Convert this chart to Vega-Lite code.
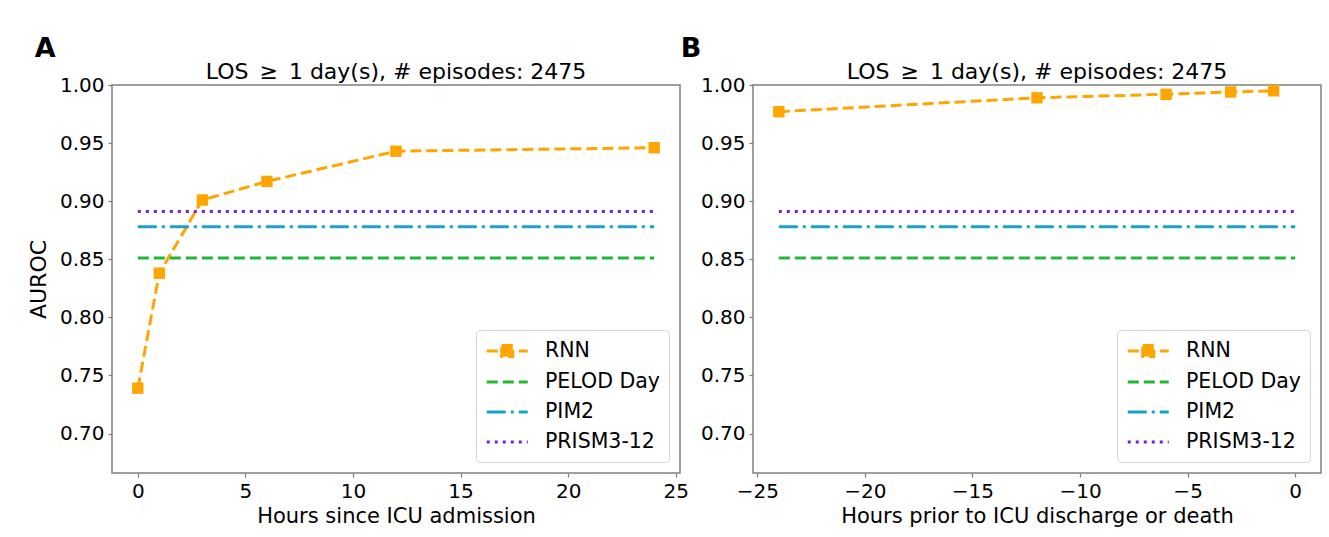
{
  "$schema": "https://vega.github.io/schema/vega-lite/v6.json",
  "padding": {"left": 26, "top": 35, "right": 5, "bottom": 5},
  "background": "white",
  "config": {
    "font": "DejaVu Sans",
    "view": {"stroke": "#808080", "strokeWidth": 1.5},
    "axis": {"grid": false, "domain": false, "tickColor": "#808080", "tickSize": 4, "tickWidth": 1.3, "labelFontSize": 20, "labelColor": "black", "labelFont": "DejaVu Sans", "titleFontSize": 21, "titleFontWeight": "normal", "titleColor": "black", "titleFont": "DejaVu Sans", "labelPadding": 4},
    "title": {"font": "DejaVu Sans", "color": "black"}
  },
  "datasets": {
    "A": [
      {"model": "RNN", "hours": 0, "auroc": 0.739},
      {"model": "RNN", "hours": 1, "auroc": 0.838},
      {"model": "RNN", "hours": 3, "auroc": 0.901},
      {"model": "RNN", "hours": 6, "auroc": 0.917},
      {"model": "RNN", "hours": 12, "auroc": 0.943},
      {"model": "RNN", "hours": 24, "auroc": 0.946},
      {"model": "PELOD Day", "hours": 0, "auroc": 0.851},
      {"model": "PELOD Day", "hours": 24, "auroc": 0.851},
      {"model": "PIM2", "hours": 0, "auroc": 0.878},
      {"model": "PIM2", "hours": 24, "auroc": 0.878},
      {"model": "PRISM3-12", "hours": 0, "auroc": 0.891},
      {"model": "PRISM3-12", "hours": 24, "auroc": 0.891}
    ],
    "B": [
      {"model": "RNN", "hours": -24, "auroc": 0.977},
      {"model": "RNN", "hours": -12, "auroc": 0.989},
      {"model": "RNN", "hours": -6, "auroc": 0.992},
      {"model": "RNN", "hours": -3, "auroc": 0.994},
      {"model": "RNN", "hours": -1, "auroc": 0.995},
      {"model": "PELOD Day", "hours": -24, "auroc": 0.851},
      {"model": "PELOD Day", "hours": 0, "auroc": 0.851},
      {"model": "PIM2", "hours": -24, "auroc": 0.878},
      {"model": "PIM2", "hours": 0, "auroc": 0.878},
      {"model": "PRISM3-12", "hours": -24, "auroc": 0.891},
      {"model": "PRISM3-12", "hours": 0, "auroc": 0.891}
    ]
  },
  "spacing": -10,
  "resolve": {"scale": {"color": "independent", "strokeDash": "independent"}, "legend": {"color": "independent", "strokeDash": "independent"}},
  "hconcat": [
    {
      "title": {"text": "A", "anchor": "start", "fontSize": 27, "fontWeight": "bold", "offset": -3, "dx": 8},
      "resolve": {"scale": {"color": "independent", "strokeDash": "independent"}, "legend": {"color": "independent", "strokeDash": "independent"}},
      "vconcat": [
        {
          "width": 568, "height": 388,
          "title": {"text": "LOS\u2002≥\u20021 day(s), # episodes: 2475", "fontSize": 22, "fontWeight": "normal", "anchor": "middle", "frame": "group", "offset": -9},
          "data": {"name": "A"},
          "layer": [
            {
              "mark": {"type": "line", "strokeWidth": 3, "clip": false},
              "encoding": {
                "x": {"field": "hours", "type": "quantitative", "scale": {"domain": [-1.2, 25.2], "nice": false, "zero": false}, "axis": {"values": [0, 5, 10, 15, 20, 25], "format": "d", "title": "Hours since ICU admission"}},
                "y": {"field": "auroc", "type": "quantitative", "scale": {"domain": [0.666, 1.0], "nice": false, "zero": false}, "axis": {"values": [0.7, 0.75, 0.8, 0.85, 0.9, 0.95, 1.0], "format": ".2f", "title": "AUROC", "titleFontSize": 22, "titlePadding": 9}},
                "color": {"field": "model", "type": "nominal", "scale": {"domain": ["RNN", "PELOD Day", "PIM2", "PRISM3-12"], "range": ["#ffa500", "#20b830", "#17a2c6", "#7b1be0"]},
                  "legend": {"title": null, "orient": "bottom-right", "offset": 11, "labelFontSize": 20.5, "labelFont": "DejaVu Sans", "labelColor": "black", "symbolType": "stroke", "symbolSize": 420, "symbolStrokeWidth": 3, "rowPadding": 7, "padding": 9, "fillColor": "rgba(255,255,255,0.85)", "strokeColor": "#d4d4d4", "cornerRadius": 4, "labelOffset": 36,
                    "encode": {"symbols": {"update": {"shape": {"signal": "datum.value === 'RNN' ? 'M-1,0H3M0.46,-0.54H1.54V0.54H0.46Z' : 'M-1,0H3'"}, "fill": {"signal": "datum.value === 'RNN' ? '#ffa500' : 'transparent'"}}}}}},
                "strokeDash": {"field": "model", "type": "nominal", "scale": {"domain": ["RNN", "PELOD Day", "PIM2", "PRISM3-12"], "range": [[11, 5], [11, 5], [19, 5, 3, 5], [3, 5]]},
                  "legend": {"title": null, "orient": "bottom-right", "offset": 11, "labelFontSize": 20.5, "labelFont": "DejaVu Sans", "labelColor": "black", "symbolType": "stroke", "symbolSize": 420, "symbolStrokeWidth": 3, "rowPadding": 7, "padding": 9, "fillColor": "rgba(255,255,255,0.85)", "strokeColor": "#d4d4d4", "cornerRadius": 4, "labelOffset": 36,
                    "encode": {"symbols": {"update": {"shape": {"signal": "datum.value === 'RNN' ? 'M-1,0H3M0.46,-0.54H1.54V0.54H0.46Z' : 'M-1,0H3'"}, "fill": {"signal": "datum.value === 'RNN' ? '#ffa500' : 'transparent'"}}}}}}
              }
            },
            {
              "transform": [{"filter": "datum.model === 'RNN'"}],
              "mark": {"type": "square", "size": 130, "color": "#ffa500", "opacity": 1, "clip": false},
              "encoding": {
                "x": {"field": "hours", "type": "quantitative"},
                "y": {"field": "auroc", "type": "quantitative"}
              }
            }
          ]
        }
      ]
    },
    {
      "title": {"text": "B", "anchor": "start", "fontSize": 27, "fontWeight": "bold", "offset": -3, "dx": -19},
      "resolve": {"scale": {"color": "independent", "strokeDash": "independent"}, "legend": {"color": "independent", "strokeDash": "independent"}},
      "vconcat": [
        {
          "width": 568, "height": 388,
          "title": {"text": "LOS\u2002≥\u20021 day(s), # episodes: 2475", "fontSize": 22, "fontWeight": "normal", "anchor": "middle", "frame": "group", "offset": -9},
          "data": {"name": "B"},
          "layer": [
            {
              "mark": {"type": "line", "strokeWidth": 3, "clip": false},
              "encoding": {
                "x": {"field": "hours", "type": "quantitative", "scale": {"domain": [-25.2, 1.2], "nice": false, "zero": false}, "axis": {"values": [-25, -20, -15, -10, -5, 0], "format": "d", "title": "Hours prior to ICU discharge or death"}},
                "y": {"field": "auroc", "type": "quantitative", "scale": {"domain": [0.666, 1.0], "nice": false, "zero": false}, "axis": {"values": [0.7, 0.75, 0.8, 0.85, 0.9, 0.95, 1.0], "format": ".2f", "title": null}},
                "color": {"field": "model", "type": "nominal", "scale": {"domain": ["RNN", "PELOD Day", "PIM2", "PRISM3-12"], "range": ["#ffa500", "#20b830", "#17a2c6", "#7b1be0"]},
                  "legend": {"title": null, "orient": "bottom-right", "offset": 11, "labelFontSize": 20.5, "labelFont": "DejaVu Sans", "labelColor": "black", "symbolType": "stroke", "symbolSize": 420, "symbolStrokeWidth": 3, "rowPadding": 7, "padding": 9, "fillColor": "rgba(255,255,255,0.85)", "strokeColor": "#d4d4d4", "cornerRadius": 4, "labelOffset": 36,
                    "encode": {"symbols": {"update": {"shape": {"signal": "datum.value === 'RNN' ? 'M-1,0H3M0.46,-0.54H1.54V0.54H0.46Z' : 'M-1,0H3'"}, "fill": {"signal": "datum.value === 'RNN' ? '#ffa500' : 'transparent'"}}}}}},
                "strokeDash": {"field": "model", "type": "nominal", "scale": {"domain": ["RNN", "PELOD Day", "PIM2", "PRISM3-12"], "range": [[11, 5], [11, 5], [19, 5, 3, 5], [3, 5]]},
                  "legend": {"title": null, "orient": "bottom-right", "offset": 11, "labelFontSize": 20.5, "labelFont": "DejaVu Sans", "labelColor": "black", "symbolType": "stroke", "symbolSize": 420, "symbolStrokeWidth": 3, "rowPadding": 7, "padding": 9, "fillColor": "rgba(255,255,255,0.85)", "strokeColor": "#d4d4d4", "cornerRadius": 4, "labelOffset": 36,
                    "encode": {"symbols": {"update": {"shape": {"signal": "datum.value === 'RNN' ? 'M-1,0H3M0.46,-0.54H1.54V0.54H0.46Z' : 'M-1,0H3'"}, "fill": {"signal": "datum.value === 'RNN' ? '#ffa500' : 'transparent'"}}}}}}
              }
            },
            {
              "transform": [{"filter": "datum.model === 'RNN'"}],
              "mark": {"type": "square", "size": 130, "color": "#ffa500", "opacity": 1, "clip": false},
              "encoding": {
                "x": {"field": "hours", "type": "quantitative"},
                "y": {"field": "auroc", "type": "quantitative"}
              }
            }
          ]
        }
      ]
    }
  ]
}
